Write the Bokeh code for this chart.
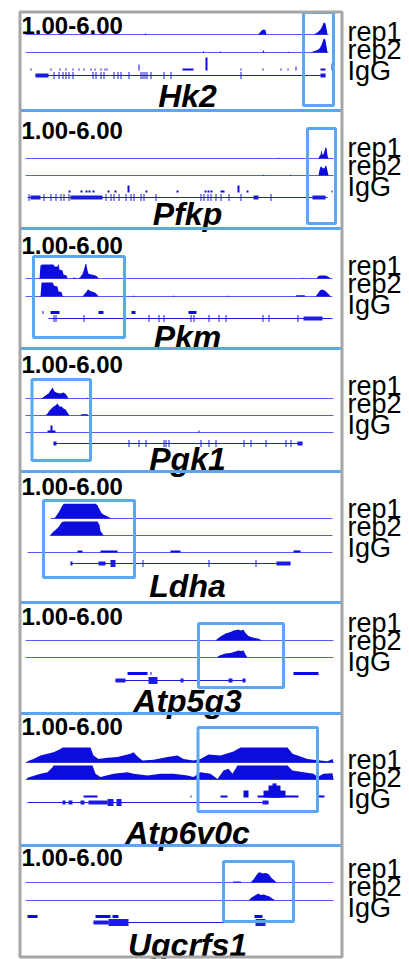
from bokeh.plotting import figure
from bokeh.models import Range1d
from bokeh.embed import file_html
from bokeh.resources import INLINE
from bokeh.core.properties import value

# ---------------- data (window bins 0..308, signal scale 1..6) ----------------
GENES = ["Hk2", "Pfkp", "Pkm", "Pgk1", "Ldha", "Atp5g3", "Atp6v0c", "Ugcrfs1"]
RANGE_LABEL = "1.00-6.00"
TRACK_LABELS = ["rep1", "rep2", "IgG"]

# Hk2
hk2_rep1_x = [119, 120, 121, 232, 234, 236, 238, 240, 241, 288, 291, 293, 295, 296, 297, 298, 299, 300, 301, 302]
hk2_rep1_v = [1, 1.4, 1, 1, 1.5, 2.3, 2.7, 2.5, 1, 1, 1.5, 2.0, 2.7, 3.3, 4.0, 4.8, 5.0, 4.6, 3.0, 1]
hk2_rep2_x = [177, 178, 179, 194, 195, 196, 237, 238, 239, 262, 263, 264, 276, 277, 278, 285, 289, 292, 294, 296, 297, 298, 299, 300, 301, 302]
hk2_rep2_v = [1, 1.5, 1, 1, 1.4, 1, 1, 1.8, 1, 1, 1.3, 1, 1, 1.4, 1, 1, 1.5, 1.8, 2.3, 3.5, 4.5, 5.5, 5.7, 5.0, 3.0, 1]
hk2_igg = [(5, 6, 1.7), (25, 26, 1.7), (34, 35, 1.7), (40, 41, 1.7), (47, 48, 1.7), (53, 54, 1.7),
           (58, 59, 1.7), (65, 66, 1.7), (69, 70, 1.7), (75, 76, 1.7), (79, 80, 1.7), (81, 82, 1.7),
           (113, 114, 3.0), (157, 168, 1.7), (180, 182, 5.3), (215, 216, 1.7), (237, 238, 1.7),
           (255, 256, 1.7), (262, 263, 1.7), (270, 271, 2.3), (277, 278, 1.7), (295, 300, 1.7), (306, 307, 3.3)]
hk2_feat = []
hk2_gene = (10, 300)
hk2_exon_blocks = [(10, 23, "utr"), (295, 300, "utr")]
hk2_exon_ticks = [28, 33, 37, 40, 43, 47, 67, 70, 75, 78, 88, 92, 95, 103, 115, 117, 119, 121, 125, 138, 145, 215]
hk2_box = (278, 308)

# Pfkp
pfkp_rep1_x = [252, 253, 254, 293, 294, 295, 296, 297, 298, 299, 300, 301, 302, 303]
pfkp_rep1_v = [1, 1.3, 1, 1, 1.8, 2.2, 3.8, 2.2, 2.5, 3.5, 4.7, 4.5, 2.0, 1]
pfkp_rep2_x = [237, 238, 239, 264, 265, 266, 293, 294, 295, 296, 297, 298, 299, 300, 301, 302, 303]
pfkp_rep2_v = [1, 1.3, 1, 1, 1.3, 1, 1, 2.8, 3.8, 4.0, 3.5, 3.3, 3.5, 4.3, 4.0, 2.5, 1]
pfkp_igg = [(43, 45, 1.7), (55, 57, 1.7), (60, 62, 1.7), (63, 65, 1.7), (67, 69, 1.7), (82, 84, 1.7),
            (89, 91, 1.7), (102, 104, 3.3), (120, 122, 1.7), (151, 153, 1.7), (179, 181, 1.7),
            (182, 184, 1.7), (185, 187, 1.7), (195, 199, 1.7), (212, 214, 3.3), (221, 223, 1.7), (306, 307, 1.7)]
pfkp_feat = []
pfkp_gene = (2, 302)
pfkp_exon_blocks = [(5, 15, "utr"), (45, 77, "utr"), (228, 233, "utr"), (287, 300, "utr")]
pfkp_exon_ticks = [3, 18, 25, 30, 35, 38, 43, 80, 85, 88, 93, 100, 105, 108, 115, 118, 130, 175, 178, 182, 185, 190, 195, 203, 215, 245]
pfkp_box = (282, 310)

# Pkm
pkm_rep1_x = [14, 15, 17, 28, 29, 32, 33, 34, 37, 38, 41, 42, 47, 48, 53, 55, 57, 59, 60, 61, 62, 63, 66, 70, 72, 73,
              276, 277, 278, 291, 293, 295, 300, 303, 305]
pkm_rep1_v = [1, 5.3, 5.7, 5.7, 5.0, 5.0, 5.9, 4.0, 3.7, 2.3, 2.0, 1.0, 1.0, 1.3, 1.0, 1.6, 2.5, 4.5, 6.0, 5.5, 3.7, 2.6, 2.3, 2.0, 1.6, 1.0,
              1, 1.3, 1, 1, 1.8, 2.0, 2.0, 1.6, 1]
pkm_rep2_x = [15, 16, 27, 29, 32, 33, 36, 37, 38, 57, 59, 61, 62, 63, 64, 66, 68, 70, 72, 73, 107, 108, 109,
              147, 148, 149, 202, 203, 204, 270, 271, 279, 280, 290, 292, 294, 296, 298, 300, 302, 304, 305]
pkm_rep2_v = [1, 5.7, 5.7, 4.5, 4.3, 2.7, 2.5, 1.3, 1, 1, 1.8, 2.6, 3.2, 3.3, 3.0, 2.7, 2.5, 2.2, 1.5, 1, 1, 1.3, 1,
              1, 1.3, 1, 1, 1.3, 1, 1, 1.4, 1.4, 1, 1, 1.8, 2.8, 3.3, 3.2, 2.8, 2.2, 1.5, 1]
pkm_igg = []
pkm_feat = [(17, 18), (25, 34), (73, 78), (106, 110), (163, 171)]
pkm_gene = (23, 307)
pkm_exon_blocks = [(278, 297, "utr")]
pkm_exon_ticks = [28, 30, 58, 123, 133, 138, 165, 168, 183, 193, 200, 237, 243, 272]
pkm_box = (8, 99)

# Pgk1
pgk1_rep1_x = [16, 18, 20, 23, 25, 27, 29, 32, 35, 38, 40, 42, 43, 61, 62, 63]
pgk1_rep1_v = [1, 1.5, 2.0, 2.7, 3.7, 4.7, 3.3, 2.8, 2.7, 3.0, 2.6, 1.6, 1, 1, 1.3, 1]
pgk1_rep2_x = [20, 22, 24, 26, 28, 30, 32, 34, 36, 38, 40, 42, 44, 55, 56, 62, 63]
pgk1_rep2_v = [1, 1.7, 2.7, 3.3, 4.0, 4.3, 5.0, 4.0, 4.0, 3.3, 3.0, 2.0, 1, 1, 1.4, 1.4, 1]
pgk1_igg = [(22, 30, 1.7), (25, 27, 3.3), (173, 174, 1.7)]
pgk1_feat = []
pgk1_gene = (28, 277)
pgk1_exon_blocks = [(28, 31, "utr"), (272, 277, "utr")]
pgk1_exon_ticks = [103, 113, 120, 138, 140, 143, 175, 183, 190, 218, 225, 240, 260, 265]
pgk1_box = (6.5, 65)

# Ldha
ldha_rep1_x = [28, 30, 32, 34, 36, 38, 40, 70, 72, 74, 76, 78, 80, 83, 86]
ldha_rep1_v = [1, 1.5, 2.5, 3.5, 4.8, 5.8, 5.9, 5.9, 5.4, 4.0, 2.8, 2.3, 2.0, 1.5, 1]
ldha_rep2_x = [24, 26, 28, 30, 33, 36, 38, 72, 74, 75, 77, 78]
ldha_rep2_v = [1, 1.6, 2.3, 2.8, 3.8, 5.3, 5.7, 5.7, 4.5, 2.5, 1.6, 1]
ldha_igg = [(52, 57, 1.7), (75, 92, 1.7), (145, 155, 1.7), (268, 275, 1.7)]
ldha_feat = []
ldha_gene = (45, 265)
ldha_exon_blocks = [(45, 47, "utr"), (73, 80, "utr"), (85, 90, "cds"), (251, 265, "utr")]
ldha_exon_ticks = [117, 183, 230]
ldha_box = (18, 109)

# Atp5g3
atp5g3_rep1_x = [190, 192, 195, 200, 205, 208, 211, 213, 215, 218, 220, 223, 227, 233, 237]
atp5g3_rep1_v = [1, 1.6, 2.3, 3.3, 3.8, 4.3, 4.5, 4.7, 4.3, 4.6, 3.5, 2.5, 2.0, 1.6, 1]
atp5g3_rep2_x = [191, 194, 197, 200, 205, 210, 213, 215, 218, 220, 222]
atp5g3_rep2_v = [1, 1.7, 2.0, 2.3, 2.5, 3.0, 3.3, 3.2, 3.3, 2.0, 1]
atp5g3_igg = []
atp5g3_feat = [(102, 122), (125, 126), (268, 293)]
atp5g3_gene = (90, 220)
atp5g3_exon_blocks = [(90, 100, "utr"), (123, 132, "cds"), (155, 158, "utr"), (203, 207, "utr"), (217, 220, "utr")]
atp5g3_exon_ticks = []
atp5g3_box = (173, 258)

# Atp6v0c
atp6v0c_rep1_x = [1, 2, 8, 15, 22, 28, 35, 37, 65, 68, 73, 82, 92, 98, 105, 108, 112, 117, 128, 142, 152, 158,
                  168, 175, 183, 195, 208, 215, 262, 267, 275, 282, 288, 295, 302, 307, 308]
atp6v0c_rep1_v = [1, 1.4, 2.2, 3.3, 3.9, 4.4, 5.5, 6.0, 6.0, 3.3, 2.2, 2.6, 2.8, 3.3, 3.9, 4.4, 3.0, 1.7, 1.9, 2.8, 3.3, 2.2,
                  1.7, 2.2, 3.7, 3.3, 4.7, 6.0, 6.0, 3.9, 3.0, 2.2, 1.9, 1.7, 1.4, 2.2, 1.0]
atp6v0c_rep2_x = [1, 2, 15, 22, 27, 28, 67, 70, 75, 88, 102, 108, 122, 135, 148, 162, 168, 175, 185, 192, 198,
                  203, 207, 212, 262, 267, 278, 288, 292, 298, 307, 308]
atp6v0c_rep2_v = [1, 1.6, 2.9, 3.4, 5.1, 5.7, 5.7, 2.9, 1.8, 2.9, 3.4, 2.9, 2.3, 2.9, 2.9, 2.3, 1.8, 3.4, 2.9, 1.2, 4.0,
                  4.6, 2.9, 5.7, 5.7, 4.0, 3.4, 2.9, 1.8, 2.9, 3.1, 1.0]
atp6v0c_igg = [(58, 72, 1.7), (165, 166, 1.7), (195, 202, 1.7), (218, 223, 3.3), (232, 273, 1.7),
               (238, 260, 3.3), (243, 255, 5.0), (247, 251, 5.7), (293, 299, 1.7)]
atp6v0c_feat = []
atp6v0c_gene = (2, 243)
atp6v0c_exon_blocks = [(37, 40, "utr"), (43, 47, "utr"), (55, 59, "utr"), (63, 82, "utr"), (82, 88, "cds"),
                       (91, 96, "cds"), (237, 243, "utr")]
atp6v0c_exon_ticks = []
atp6v0c_box = (172.5, 292)

# Ugcrfs1
ugcrfs1_rep1_x = [207, 208, 215, 216, 225, 228, 231, 233, 235, 237, 240, 243, 246, 249, 251]
ugcrfs1_rep1_v = [1, 1.3, 1.3, 1, 1, 2.0, 3.5, 4.3, 4.3, 4.0, 4.2, 3.8, 2.5, 1.7, 1]
ugcrfs1_rep2_x = [223, 226, 229, 231, 233, 235, 238, 241, 244, 247, 250]
ugcrfs1_rep2_v = [1, 2.0, 2.6, 3.0, 3.3, 2.8, 3.0, 2.7, 2.3, 1.6, 1]
ugcrfs1_igg = []
ugcrfs1_feat = [(2, 12), (70, 85), (87, 93), (229, 237)]
ugcrfs1_gene = (68, 240)
ugcrfs1_exon_blocks = [(68, 83, "utr"), (83, 103, "cds"), (230, 240, "cds")]
ugcrfs1_exon_ticks = []
ugcrfs1_box = (198, 268)

DATA = [
    dict(r1x=hk2_rep1_x, r1v=hk2_rep1_v, r2x=hk2_rep2_x, r2v=hk2_rep2_v, igg=hk2_igg, feat=hk2_feat,
         gene=hk2_gene, blocks=hk2_exon_blocks, ticks=hk2_exon_ticks, box=hk2_box),
    dict(r1x=pfkp_rep1_x, r1v=pfkp_rep1_v, r2x=pfkp_rep2_x, r2v=pfkp_rep2_v, igg=pfkp_igg, feat=pfkp_feat,
         gene=pfkp_gene, blocks=pfkp_exon_blocks, ticks=pfkp_exon_ticks, box=pfkp_box),
    dict(r1x=pkm_rep1_x, r1v=pkm_rep1_v, r2x=pkm_rep2_x, r2v=pkm_rep2_v, igg=pkm_igg, feat=pkm_feat,
         gene=pkm_gene, blocks=pkm_exon_blocks, ticks=pkm_exon_ticks, box=pkm_box),
    dict(r1x=pgk1_rep1_x, r1v=pgk1_rep1_v, r2x=pgk1_rep2_x, r2v=pgk1_rep2_v, igg=pgk1_igg, feat=pgk1_feat,
         gene=pgk1_gene, blocks=pgk1_exon_blocks, ticks=pgk1_exon_ticks, box=pgk1_box),
    dict(r1x=ldha_rep1_x, r1v=ldha_rep1_v, r2x=ldha_rep2_x, r2v=ldha_rep2_v, igg=ldha_igg, feat=ldha_feat,
         gene=ldha_gene, blocks=ldha_exon_blocks, ticks=ldha_exon_ticks, box=ldha_box),
    dict(r1x=atp5g3_rep1_x, r1v=atp5g3_rep1_v, r2x=atp5g3_rep2_x, r2v=atp5g3_rep2_v, igg=atp5g3_igg, feat=atp5g3_feat,
         gene=atp5g3_gene, blocks=atp5g3_exon_blocks, ticks=atp5g3_exon_ticks, box=atp5g3_box),
    dict(r1x=atp6v0c_rep1_x, r1v=atp6v0c_rep1_v, r2x=atp6v0c_rep2_x, r2v=atp6v0c_rep2_v, igg=atp6v0c_igg, feat=atp6v0c_feat,
         gene=atp6v0c_gene, blocks=atp6v0c_exon_blocks, ticks=atp6v0c_exon_ticks, box=atp6v0c_box),
    dict(r1x=ugcrfs1_rep1_x, r1v=ugcrfs1_rep1_v, r2x=ugcrfs1_rep2_x, r2v=ugcrfs1_rep2_v, igg=ugcrfs1_igg, feat=ugcrfs1_feat,
         gene=ugcrfs1_gene, blocks=ugcrfs1_exon_blocks, ticks=ugcrfs1_exon_ticks, box=ugcrfs1_box),
]

# ---------------- layout (page pixels; text_y / name_y / lab are visual baselines) ----------------
LAYOUT = [
    dict(top=12, text_y=33, rep1=34, rep2=52, igg=70, feat=68, gene=75, name_y=106, box=(12, 105), lab=41, span=(0, 303), igg_line=None),
    dict(top=110, text_y=138, rep1=158, rep2=175, igg=192, feat=190, gene=197, name_y=224, box=(128, 223), lab=157, span=(0, 308), igg_line=None),
    dict(top=228, text_y=253, rep1=278, rep2=296, igg=313, feat=312, gene=318, name_y=347, box=(256, 337), lab=275, span=(0, 307), igg_line=None),
    dict(top=348, text_y=372, rep1=398, rep2=415, igg=432, feat=432, gene=443, name_y=469, box=(379, 460), lab=395, span=(0, 308), igg_line=(0, 308)),
    dict(top=471, text_y=494, rep1=518, rep2=535, igg=552, feat=560, gene=563, name_y=596, box=(500, 577), lab=518, span=(25, 307), igg_line=(2, 307)),
    dict(top=602, text_y=624, rep1=640, rep2=657, igg=674, feat=673, gene=680, name_y=711, box=(623, 687), lab=632, span=(0, 308), igg_line=None),
    dict(top=713, text_y=734, rep1=762, rep2=779, igg=797, feat=795, gene=802, name_y=843, box=(727, 811), lab=769, span=(0, 308), igg_line=None),
    dict(top=845, text_y=865, rep1=882, rep2=900, igg=916, feat=916, gene=922, name_y=955, box=(861, 921), lab=878, span=(0, 308), igg_line=None),
]

SIG_PX = 3.0          # pixels per signal unit
W, H = 409, 959
SIG = "#0c0cdc"
BASE = "#5a5af0"
GENE_C = "#1c1ce0"
BOX = "#5aa8f4"
SEP = "#5aa6f2"
GREY = "#a6a6a6"
EXON_H = {"utr": 4, "cds": 7}
FONT = value("Liberation Sans")
FS_RANGE, FS_NAME, FS_LAB = 24, 32, 27
TEXT_SHIFT = 0.34     # svg text sits this many font-sizes below the requested y


def tb(y, fs):
    return y - TEXT_SHIFT * fs


def track_range(yb):
    return Range1d(start=1 - (H - yb) / SIG_PX, end=1 + yb / SIG_PX)


p = figure(width=W, height=H, x_range=Range1d(0, W), y_range=Range1d(H, 0),
           min_border=0, toolbar_location=None, output_backend="svg",
           x_axis_location=None, y_axis_location=None)
p.grid.visible = False
p.outline_line_color = None
p.background_fill_color = "white"

xr = {"bins": Range1d(-25, W - 25)}
yr = {}
for i, L in enumerate(LAYOUT):
    for key in ("rep1", "rep2", "igg"):
        yr[f"t{i}_{key}"] = track_range(L[key])
p.extra_x_ranges = xr
p.extra_y_ranges = yr

for i, (g, L, D) in enumerate(zip(GENES, LAYOUT, DATA)):
    for key in ("rep1", "rep2"):
        p.segment(x0=[L["span"][0]], x1=[L["span"][1]], y0=[1], y1=[1], line_color=BASE, line_width=1,
                  x_range_name="bins", y_range_name=f"t{i}_{key}")
    if L["igg_line"]:
        p.segment(x0=[L["igg_line"][0]], x1=[L["igg_line"][1]], y0=[1], y1=[1], line_color=BASE, line_width=1,
                  x_range_name="bins", y_range_name=f"t{i}_igg")
    p.varea(x=D["r1x"], y1=[1] * len(D["r1x"]), y2=D["r1v"], fill_color=SIG,
            x_range_name="bins", y_range_name=f"t{i}_rep1")
    p.varea(x=D["r2x"], y1=[1] * len(D["r2x"]), y2=D["r2v"], fill_color=SIG,
            x_range_name="bins", y_range_name=f"t{i}_rep2")
    if D["igg"]:
        p.quad(left=[a for a, b, v in D["igg"]], right=[b for a, b, v in D["igg"]],
               bottom=[1] * len(D["igg"]), top=[v for a, b, v in D["igg"]],
               fill_color=SIG, line_color=None, x_range_name="bins", y_range_name=f"t{i}_igg")
    if D["feat"]:
        p.quad(left=[a for a, b in D["feat"]], right=[b for a, b in D["feat"]],
               bottom=[L["feat"] + 1.5] * len(D["feat"]), top=[L["feat"] - 1.5] * len(D["feat"]),
               fill_color=SIG, line_color=None, x_range_name="bins")
    gy = L["gene"]
    p.segment(x0=[D["gene"][0]], x1=[D["gene"][1]], y0=[gy], y1=[gy], line_color=GENE_C, line_width=1,
              x_range_name="bins")
    ex = list(D["blocks"]) + [(t, t + 1, "cds") for t in D["ticks"]]
    p.quad(left=[a for a, b, k in ex], right=[b for a, b, k in ex],
           bottom=[gy + EXON_H[k] / 2 for a, b, k in ex], top=[gy - EXON_H[k] / 2 for a, b, k in ex],
           fill_color=GENE_C, line_color=None, x_range_name="bins")
    p.text(x=[21], y=[tb(L["text_y"], FS_RANGE)], text=[RANGE_LABEL], text_font=FONT, text_font_style="bold",
           text_font_size=f"{FS_RANGE}px", text_baseline="alphabetic", text_color="black")
    p.text(x=[187], y=[tb(L["name_y"], FS_NAME)], text=[g], text_font=FONT, text_font_style="bold italic",
           text_font_size=f"{FS_NAME}px", text_baseline="alphabetic", text_align="center", text_color="black")
    p.text(x=[347, 347, 347], y=[tb(L["lab"] + d, FS_LAB) for d in (0, 18, 39)], text=TRACK_LABELS, text_font=FONT,
           text_font_size=f"{FS_LAB}px", text_baseline="alphabetic", text_color="black")
    p.quad(left=[D["box"][0]], right=[D["box"][1]], top=[L["box"][0]], bottom=[L["box"][1]],
           fill_color=None, line_color=BOX, line_width=3, x_range_name="bins")

tops = [L["top"] for L in LAYOUT[1:]]
p.segment(x0=[19] * len(tops), x1=[341] * len(tops), y0=tops, y1=tops, line_color=SEP, line_width=3)
p.quad(left=[19.5], right=[341.5], top=[11.5], bottom=[956.5], fill_color=None, line_color=GREY, line_width=3)

open("out.html", "w").write(file_html(p, INLINE))
